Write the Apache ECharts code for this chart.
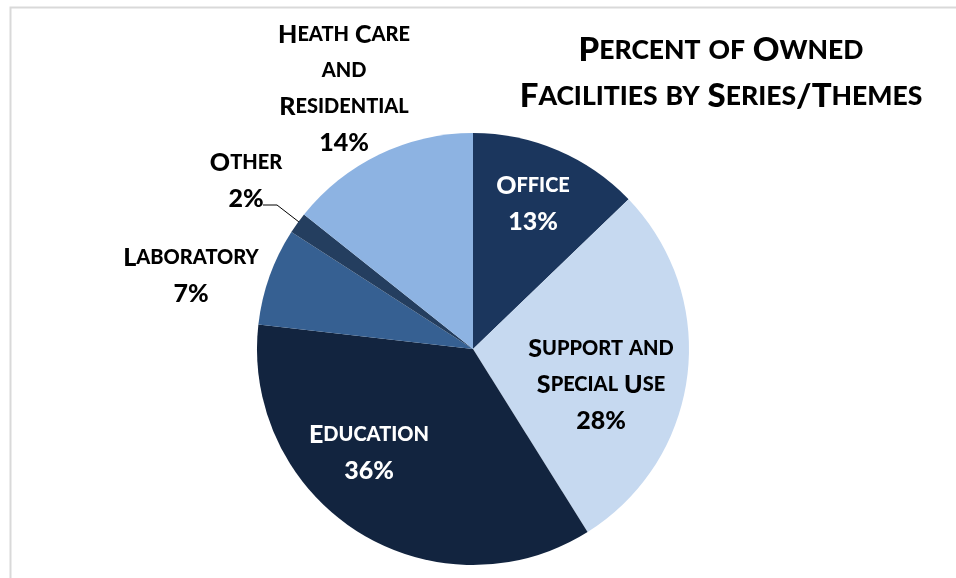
<!DOCTYPE html>
<html>
<head>
<meta charset="utf-8">
<script src="https://cdn.jsdelivr.net/npm/echarts@6/dist/echarts.min.js"></script>
<style>
html,body{margin:0;padding:0;background:#fff;}
#chart{width:956px;height:578px;}
</style>
</head>
<body>
<div id="chart"></div>
<script>
// ---- data ----
var categories = ["Office", "Support and Special Use", "Education", "Laboratory", "Other", "Heath Care and Residential"];
var values = [12.8, 28.3, 35.7, 7.3, 1.6, 14.3];
var titleLines = ["Percent of Owned", "Facilities by Series/Themes"];

// ---- presentation ----
var labelLines = {
  "Office": ["Office"],
  "Support and Special Use": ["Support and", "Special Use"],
  "Education": ["Education"],
  "Laboratory": ["Laboratory"],
  "Other": ["Other"],
  "Heath Care and Residential": ["Heath Care", "and", "Residential"]
};
var colors = ["#1b365d", "#c6d9f0", "#12243f", "#366092", "#243e5f", "#8db3e2"];
var labelColors = ["#ffffff", "#000000", "#ffffff", "#000000", "#000000", "#000000"];
var labelPos = [[533, 204], [601, 385], [369, 453], [191, 276], [246, 181], [344, 89]];
var FONT = 'Lato';
var WEIGHT = 900;

function smallCaps(s) {
  var out = '', cur = null, buf = '';
  function flush() { if (buf) { out += '{' + cur + '|' + buf + '}'; buf = ''; } }
  for (var i = 0; i < s.length; i++) {
    var c = s[i];
    var t = (c >= 'a' && c <= 'z') ? 'S' : 'B';
    var ch = c.toUpperCase();
    if (t !== cur) { flush(); cur = t; }
    buf += ch;
  }
  flush();
  return out;
}
function makeRich(color, big, small, lh) {
  return {
    B: {fontFamily: FONT, fontWeight: WEIGHT, fontSize: big, color: color, lineHeight: lh},
    S: {fontFamily: FONT, fontWeight: WEIGHT, fontSize: small, color: color, lineHeight: lh},
    P: {fontFamily: FONT, fontWeight: WEIGHT, fontSize: big, color: color, lineHeight: lh}
  };
}

var data = categories.map(function (name, i) {
  var isOther = name === 'Other';
  return {
    name: name,
    value: values[i],
    itemStyle: {color: colors[i]},
    label: {
      position: isOther ? 'outside' : 'inside',
      rich: makeRich(labelColors[i], 25, 20, 36)
    },
    labelLine: {show: isOther}
  };
});

var chart = echarts.init(document.getElementById('chart'), null, {renderer: 'canvas'});
chart.setOption({
  animation: false,
  backgroundColor: '#ffffff',
  graphic: [{
    type: 'rect',
    left: 8, top: 5,
    shape: {x: 0, y: 0, width: 980, height: 620},
    style: {fill: 'none', stroke: '#d9d9d9', lineWidth: 2},
    silent: true
  }],
  title: {
    text: titleLines.map(smallCaps).join('\n'),
    left: 716, top: 22,
    textAlign: 'center',
    textStyle: {rich: makeRich('#000000', 33, 26.5, 46)}
  },
  series: [{
    type: 'pie',
    center: [473, 349],
    radius: 216,
    startAngle: 90,
    clockwise: true,
    percentPrecision: 0,
    avoidLabelOverlap: false,
    itemStyle: {borderWidth: 0},
    label: {
      show: true,
      align: 'center',
      formatter: function (p) {
        return labelLines[p.name].map(smallCaps).join('\n') + '\n{P|' + p.percent + '%}';
      }
    },
    labelLine: {lineStyle: {color: '#000000', width: 1}},
    labelLayout: function (params) {
      var pos = labelPos[params.dataIndex];
      var res = {x: pos[0], y: pos[1], align: 'center', verticalAlign: 'middle'};
      if (categories[params.dataIndex] === 'Other') {
        res.labelLinePoints = [[263, 205], [277, 205], [299, 222]];
      }
      return res;
    },
    data: data
  }]
});
</script>
</body>
</html>
